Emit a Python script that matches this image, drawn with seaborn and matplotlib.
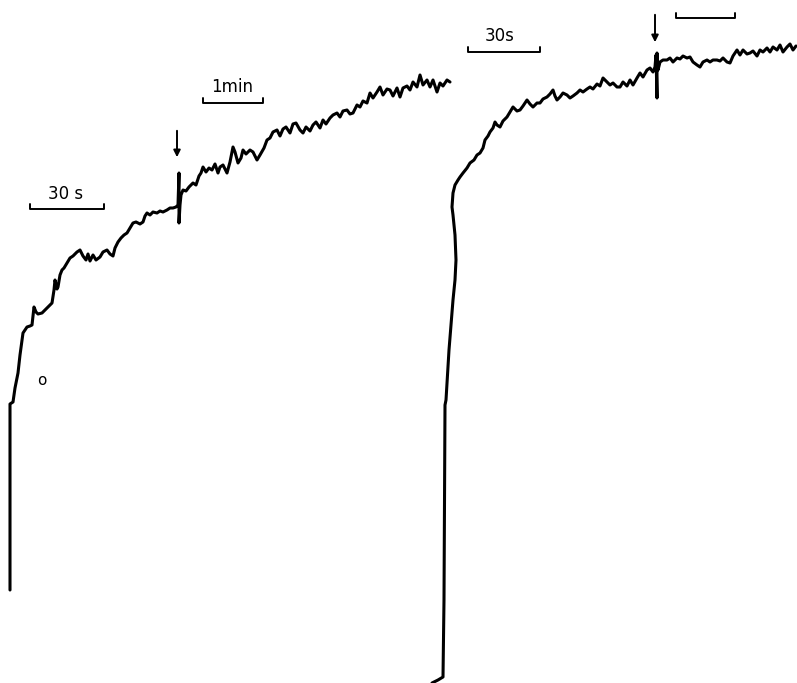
import matplotlib
matplotlib.use("Agg")
import matplotlib.pyplot as plt
import seaborn as sns
import pandas as pd

# Trace 1 (left recording) as (x, y) samples in image units (y downward)
trace1 = [(10, 590), (10, 404), (13, 402), (15, 388), (18, 373), (20, 355), (23, 333), (25, 330),
          (27, 327), (30, 326), (32, 325), (34, 307), (36, 312), (38, 314), (42, 313), (47, 308),
          (52, 303), (54, 290), (55, 280), (57, 289), (58, 287), (60, 275), (62, 270), (64, 268),
          (67, 263), (70, 258), (73, 256), (77, 252), (80, 250), (83, 256), (86, 260), (88, 254),
          (90, 261), (93, 255), (96, 260), (100, 257), (103, 252), (107, 250), (110, 254), (113, 256),
          (115, 248), (118, 242), (121, 238), (124, 235), (127, 233), (130, 228), (133, 223),
          (136, 222), (140, 224), (143, 222), (145, 216), (147, 213), (150, 215), (153, 212),
          (157, 213), (160, 211), (163, 212), (167, 210), (170, 208), (173, 208), (176, 207),
          (178, 205), (179, 173), (179, 223), (180, 205), (181, 195), (183, 190), (186, 191),
          (189, 187), (193, 183), (196, 185), (199, 176), (201, 173), (203, 167), (206, 172),
          (209, 168), (212, 170), (215, 164), (218, 173), (220, 167), (223, 165), (227, 173),
          (230, 162), (233, 147), (235, 152), (238, 163), (241, 158), (243, 150), (246, 154),
          (250, 150), (253, 152), (257, 160), (260, 155), (264, 148), (267, 140), (270, 138),
          (273, 132), (277, 130), (280, 136), (283, 129), (286, 127), (290, 133), (293, 124),
          (296, 123), (300, 130), (303, 133), (306, 127), (310, 131), (313, 125), (316, 122),
          (320, 128), (323, 120), (326, 124), (330, 118), (333, 115), (337, 113), (340, 117),
          (343, 111), (347, 110), (350, 114), (353, 113), (357, 105), (360, 107), (363, 101),
          (367, 103), (370, 93), (373, 98), (377, 92), (380, 87), (383, 95), (387, 89), (390, 90),
          (393, 96), (397, 88), (400, 97), (403, 88), (407, 86), (410, 90), (413, 82), (417, 87),
          (420, 75), (423, 85), (427, 80), (430, 87), (433, 80), (437, 92), (440, 83), (443, 86),
          (447, 80), (450, 82)]

# Trace 2 (right recording)
trace2 = [(432, 683), (438, 680), (443, 677), (444, 600), (445, 405), (446, 400), (449, 350),
          (453, 300), (455, 280), (456, 260), (455, 235), (453, 215), (452, 207), (453, 193),
          (455, 185), (458, 180), (460, 177), (463, 173), (467, 168), (470, 163), (474, 160),
          (477, 155), (480, 153), (483, 148), (485, 140), (488, 136), (490, 132), (493, 128),
          (495, 122), (497, 125), (500, 127), (503, 121), (507, 117), (510, 112), (513, 107),
          (517, 111), (520, 110), (523, 106), (527, 100), (530, 104), (533, 107), (537, 103),
          (540, 103), (543, 99), (547, 97), (550, 94), (553, 90), (555, 96), (557, 100), (560, 97),
          (563, 93), (567, 95), (570, 98), (573, 96), (577, 93), (580, 90), (583, 92), (587, 89),
          (590, 87), (593, 89), (597, 84), (600, 86), (603, 78), (607, 82), (610, 85), (613, 83),
          (617, 87), (620, 87), (623, 82), (627, 86), (630, 80), (633, 85), (637, 78), (640, 73),
          (643, 77), (647, 70), (650, 68), (653, 72), (655, 67), (656, 55), (657, 98), (657, 53),
          (658, 70), (660, 62), (663, 60), (667, 60), (670, 58), (673, 62), (677, 58), (680, 59),
          (683, 56), (687, 58), (690, 57), (693, 62), (697, 65), (700, 67), (703, 62), (707, 60),
          (710, 62), (713, 60), (717, 60), (720, 61), (723, 58), (727, 62), (730, 63), (733, 56),
          (737, 50), (740, 55), (743, 50), (747, 54), (750, 53), (753, 51), (757, 56), (760, 50),
          (763, 52), (767, 48), (770, 52), (773, 47), (777, 50), (780, 45), (783, 52), (787, 47),
          (790, 44), (793, 50), (796, 46)]

# Scale bars
bar_x0 = [30, 203, 468, 676]
bar_x1 = [104, 263, 540, 735]
bar_y = [209, 103, 52, 18]
bar_labels = ["30 s", "1min", "30s", ""]
label_x = [66, 232, 500, 0]
label_y = [199, 92, 41, 0]

# Stimulus arrows
arrow_x = [177, 655]
arrow_top = [128, 12]
arrow_tip = [160, 45]

sns.set_style("white")
fig = plt.figure(figsize=(7.97, 6.83), dpi=100)
ax = fig.add_axes([0, 0, 1, 1])

for tr in (trace1, trace2):
    df = pd.DataFrame(tr, columns=["x", "y"])
    sns.lineplot(data=df, x="x", y="y", sort=False, estimator=None, color="black", lw=2.2, ax=ax)

for x0, x1, y, lab, lx, ly in zip(bar_x0, bar_x1, bar_y, bar_labels, label_x, label_y):
    bdf = pd.DataFrame({"x": [x0, x0, x1, x1], "y": [y - 5, y, y, y - 5]})
    sns.lineplot(data=bdf, x="x", y="y", sort=False, estimator=None, color="black", lw=1.4, ax=ax)
    if lab:
        ax.text(lx, ly, lab, ha="center", va="baseline", fontsize=12, color="black",
                family="DejaVu Sans")

for x, yt, yb in zip(arrow_x, arrow_top, arrow_tip):
    ax.annotate("", xy=(x, yb), xytext=(x, yt),
                arrowprops=dict(arrowstyle="-|>", color="black", lw=1.4, mutation_scale=10))

ax.text(42, 385, "o", ha="center", va="baseline", fontsize=11, color="black", family="DejaVu Sans")

ax.set_xlim(0, 797)
ax.set_ylim(683, 0)
ax.set_axis_off()
fig.savefig("out.png", dpi=100, facecolor="white")
